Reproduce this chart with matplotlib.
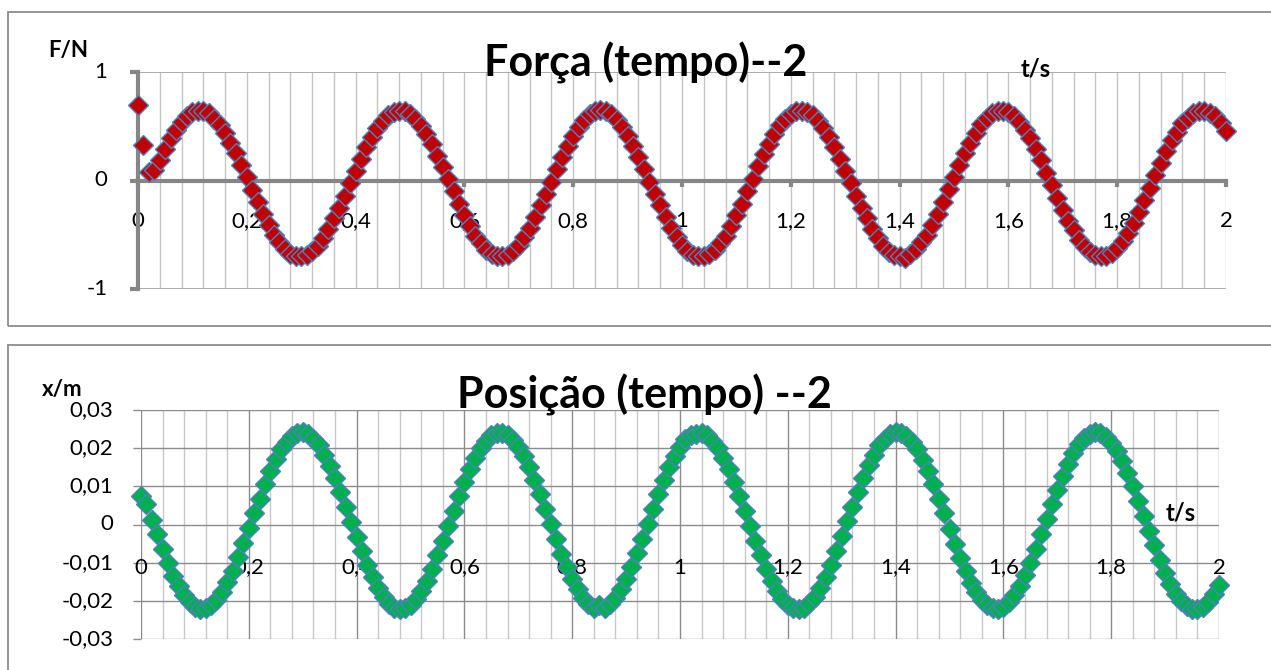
import matplotlib.pyplot as plt
from matplotlib.patches import Rectangle

# tempo (s) das medidas
tempo = [
    0.00, 0.01, 0.02, 0.03, 0.04, 0.05, 0.06, 0.07, 0.08, 0.09,
    0.10, 0.11, 0.12, 0.13, 0.14, 0.15, 0.16, 0.17, 0.18, 0.19,
    0.20, 0.21, 0.22, 0.23, 0.24, 0.25, 0.26, 0.27, 0.28, 0.29,
    0.30, 0.31, 0.32, 0.33, 0.34, 0.35, 0.36, 0.37, 0.38, 0.39,
    0.40, 0.41, 0.42, 0.43, 0.44, 0.45, 0.46, 0.47, 0.48, 0.49,
    0.50, 0.51, 0.52, 0.53, 0.54, 0.55, 0.56, 0.57, 0.58, 0.59,
    0.60, 0.61, 0.62, 0.63, 0.64, 0.65, 0.66, 0.67, 0.68, 0.69,
    0.70, 0.71, 0.72, 0.73, 0.74, 0.75, 0.76, 0.77, 0.78, 0.79,
    0.80, 0.81, 0.82, 0.83, 0.84, 0.85, 0.86, 0.87, 0.88, 0.89,
    0.90, 0.91, 0.92, 0.93, 0.94, 0.95, 0.96, 0.97, 0.98, 0.99,
    1.00, 1.01, 1.02, 1.03, 1.04, 1.05, 1.06, 1.07, 1.08, 1.09,
    1.10, 1.11, 1.12, 1.13, 1.14, 1.15, 1.16, 1.17, 1.18, 1.19,
    1.20, 1.21, 1.22, 1.23, 1.24, 1.25, 1.26, 1.27, 1.28, 1.29,
    1.30, 1.31, 1.32, 1.33, 1.34, 1.35, 1.36, 1.37, 1.38, 1.39,
    1.40, 1.41, 1.42, 1.43, 1.44, 1.45, 1.46, 1.47, 1.48, 1.49,
    1.50, 1.51, 1.52, 1.53, 1.54, 1.55, 1.56, 1.57, 1.58, 1.59,
    1.60, 1.61, 1.62, 1.63, 1.64, 1.65, 1.66, 1.67, 1.68, 1.69,
    1.70, 1.71, 1.72, 1.73, 1.74, 1.75, 1.76, 1.77, 1.78, 1.79,
    1.80, 1.81, 1.82, 1.83, 1.84, 1.85, 1.86, 1.87, 1.88, 1.89,
    1.90, 1.91, 1.92, 1.93, 1.94, 1.95, 1.96, 1.97, 1.98, 1.99,
    2.00]

# forca (N)
forca = [
    0.70, 0.33, 0.08, 0.10, 0.19, 0.29, 0.39, 0.47, 0.54, 0.59,
    0.63, 0.64, 0.64, 0.62, 0.57, 0.51, 0.44, 0.35, 0.25, 0.14,
    0.03, -0.09, -0.20, -0.31, -0.41, -0.50, -0.57, -0.63, -0.68, -0.70,
    -0.70, -0.69, -0.65, -0.60, -0.53, -0.45, -0.35, -0.25, -0.14, -0.02,
    0.09, 0.20, 0.31, 0.40, 0.48, 0.55, 0.60, 0.63, 0.64, 0.64,
    0.61, 0.57, 0.50, 0.43, 0.34, 0.23, 0.12, 0.01, -0.10, -0.22,
    -0.32, -0.42, -0.51, -0.58, -0.64, -0.68, -0.70, -0.70, -0.69, -0.65,
    -0.59, -0.52, -0.44, -0.34, -0.23, -0.12, -0.01, 0.11, 0.22, 0.32,
    0.41, 0.49, 0.56, 0.61, 0.64, 0.65, 0.64, 0.61, 0.56, 0.49,
    0.41, 0.32, 0.22, 0.11, -0.01, -0.12, -0.23, -0.34, -0.44, -0.52,
    -0.59, -0.65, -0.69, -0.70, -0.70, -0.68, -0.64, -0.58, -0.51, -0.42,
    -0.32, -0.22, -0.10, 0.01, 0.13, 0.24, 0.34, 0.43, 0.51, 0.57,
    0.61, 0.64, 0.64, 0.63, 0.60, 0.55, 0.48, 0.40, 0.31, 0.20,
    0.09, -0.02, -0.14, -0.25, -0.35, -0.45, -0.53, -0.60, -0.66, -0.69,
    -0.70, -0.71, -0.68, -0.63, -0.57, -0.50, -0.41, -0.31, -0.20, -0.08,
    0.03, 0.14, 0.25, 0.35, 0.44, 0.52, 0.58, 0.62, 0.64, 0.64,
    0.63, 0.59, 0.54, 0.47, 0.39, 0.29, 0.19, 0.07, -0.04, -0.16,
    -0.27, -0.37, -0.46, -0.55, -0.61, -0.66, -0.69, -0.70, -0.70, -0.67,
    -0.62, -0.56, -0.48, -0.39, -0.29, -0.18, -0.07, 0.05, 0.16, 0.27,
    0.37, 0.45, 0.53, 0.58, 0.62, 0.64, 0.64, 0.62, 0.59, 0.53,
    0.46]

# posicao (m)
posicao = [
    0.0075, 0.0053, 0.0013, -0.0026, -0.0064, -0.0101, -0.0134, -0.0162, -0.0186, -0.0204,
    -0.0216, -0.0222, -0.0220, -0.0212, -0.0198, -0.0177, -0.0151, -0.0121, -0.0086, -0.0049,
    -0.0010, 0.0029, 0.0068, 0.0106, 0.0140, 0.0171, 0.0197, 0.0217, 0.0232, 0.0240,
    0.0242, 0.0237, 0.0225, 0.0207, 0.0183, 0.0154, 0.0121, 0.0085, 0.0047, 0.0007,
    -0.0032, -0.0070, -0.0106, -0.0138, -0.0166, -0.0189, -0.0207, -0.0218, -0.0222, -0.0220,
    -0.0211, -0.0195, -0.0174, -0.0147, -0.0116, -0.0081, -0.0043, -0.0004, 0.0035, 0.0074,
    0.0111, 0.0145, 0.0175, 0.0200, 0.0220, 0.0234, 0.0241, 0.0241, 0.0235, 0.0222,
    0.0203, 0.0179, 0.0150, 0.0116, 0.0079, 0.0041, 0.0001, -0.0038, -0.0076, -0.0111,
    -0.0143, -0.0170, -0.0192, -0.0209, -0.0219, -0.0212, -0.0219, -0.0209, -0.0192, -0.0170,
    -0.0143, -0.0111, -0.0075, -0.0037, 0.0002, 0.0041, 0.0080, 0.0116, 0.0150, 0.0179,
    0.0204, 0.0223, 0.0235, 0.0238, 0.0241, 0.0234, 0.0220, 0.0200, 0.0175, 0.0145,
    0.0111, 0.0074, 0.0035, -0.0005, -0.0044, -0.0081, -0.0116, -0.0147, -0.0174, -0.0195,
    -0.0211, -0.0220, -0.0222, -0.0218, -0.0206, -0.0189, -0.0166, -0.0138, -0.0105, -0.0070,
    -0.0031, 0.0008, 0.0047, 0.0086, 0.0122, 0.0155, 0.0183, 0.0207, 0.0225, 0.0237,
    0.0242, 0.0240, 0.0232, 0.0217, 0.0197, 0.0170, 0.0140, 0.0105, 0.0068, 0.0029,
    -0.0011, -0.0050, -0.0087, -0.0121, -0.0152, -0.0178, -0.0198, -0.0212, -0.0220, -0.0222,
    -0.0216, -0.0204, -0.0186, -0.0162, -0.0133, -0.0100, -0.0064, -0.0026, 0.0014, 0.0053,
    0.0091, 0.0127, 0.0159, 0.0187, 0.0210, 0.0227, 0.0238, 0.0242, 0.0239, 0.0230,
    0.0214, 0.0193, 0.0166, 0.0135, 0.0100, 0.0062, 0.0023, -0.0017, -0.0055, -0.0092,
    -0.0126, -0.0156, -0.0181, -0.0201, -0.0214, -0.0221, -0.0221, -0.0215, -0.0202, -0.0183,
    -0.0158]

x_ticks = [0, 0.2, 0.4, 0.6, 0.8, 1.0, 1.2, 1.4, 1.6, 1.8, 2.0]
x_labels = ['0', '0,2', '0,4', '0,6', '0,8', '1', '1,2', '1,4', '1,6', '1,8', '2']
x_minor = [0.04 * i for i in range(51)]
f_ticks = [-1, 0, 1]
f_labels = ['-1', '0', '1']
p_ticks = [-0.03, -0.02, -0.01, 0, 0.01, 0.02, 0.03]
p_labels = ['-0,03', '-0,02', '-0,01', '0', '0,01', '0,02', '0,03']

plt.rcParams['font.family'] = ['Lato', 'DejaVu Sans']

W, H = 1271, 670
fig = plt.figure(figsize=(W / 100, H / 100), dpi=100)


def px_box(x0, y0, x1, y1):
    # caixa em pixels (origem em cima) -> fracao da figura
    return [x0 / W, 1 - y1 / H, (x1 - x0) / W, (y1 - y0) / H]


# molduras dos dois graficos
for (x0, y0, x1, y1) in [(8, 12, 1290, 326), (8, 345, 1290, 690)]:
    b = px_box(x0, y0, x1, y1)
    fig.add_artist(Rectangle((b[0], b[1]), b[2], b[3], transform=fig.transFigure,
                             fill=False, ec='#8c8c8c', lw=1.3))

eixo = '#868686'
tam = 16

# ---------------- Forca ----------------
ax1 = fig.add_axes(px_box(138, 72, 1226, 289))
ax1.set_facecolor('none')
ax1.set_xlim(0, 2)
ax1.set_ylim(-1, 1)
for s in ['top', 'right']:
    ax1.spines[s].set_visible(False)
for s in ['left', 'bottom']:
    ax1.spines[s].set_position(('data', 0))
    ax1.spines[s].set_color(eixo)
    ax1.spines[s].set_linewidth(3)
    ax1.spines[s].set_zorder(3)
ax1.set_xticks(x_ticks)
ax1.set_xticks(x_minor, minor=True)
ax1.set_yticks(f_ticks)
ax1.tick_params(axis='x', which='major', direction='out', length=4, width=3,
                color=eixo, labelbottom=False)
ax1.tick_params(axis='x', which='minor', length=0)
ax1.tick_params(axis='y', direction='out', length=6, width=3, color=eixo, labelleft=False)
ax1.grid(axis='x', which='both', color='#c4c4c4', lw=1)
ax1.axhline(1, color='#a6a6a6', lw=1.3, zorder=1)
ax1.axhline(-1, color='#a6a6a6', lw=1.3, zorder=1)
ax1.set_axisbelow(True)

for xv, lb in zip(x_ticks, x_labels):
    ax1.annotate(lb, (xv, 0), xytext=(0, -29.5), textcoords='offset points',
                 ha='center', va='center', fontsize=tam, zorder=2)
for yv, lb in zip(f_ticks, f_labels):
    ax1.annotate(lb, (0, yv), xytext=(-22, 0), textcoords='offset points',
                 ha='right', va='center', fontsize=tam, annotation_clip=False)

ax1.plot(tempo, forca, ls='none', marker='D', ms=10.5, mfc='#C00000',
         mec='#4F81BD', mew=1, clip_on=False, zorder=5)

fig.text(646 / W, 1 - 77 / H, 'Força (tempo)--2', ha='center', va='baseline',
         fontsize=31, fontweight='bold', zorder=6)
fig.text(68 / W, 1 - 51 / H, 'F/N', ha='center', va='center', fontsize=16, fontweight='bold')
fig.text(1036 / W, 1 - 69 / H, 't/s', ha='center', va='center', fontsize=17,
         fontweight='bold', zorder=6)

# ---------------- Posicao ----------------
ax2 = fig.add_axes(px_box(141, 410, 1219, 639))
ax2.set_facecolor('none')
ax2.set_xlim(0, 2)
ax2.set_ylim(-0.03, 0.03)
for s in ax2.spines.values():
    s.set_visible(False)
ax2.set_xticks(x_ticks)
ax2.set_xticks(x_minor, minor=True)
ax2.set_yticks(p_ticks)
ax2.tick_params(axis='x', which='both', length=0, labelbottom=False)
ax2.tick_params(axis='y', direction='out', length=6, width=1, color='#8c8c8c', labelleft=False)
ax2.grid(axis='x', which='minor', color='#c8c8c8', lw=1)
ax2.grid(axis='x', which='major', color='#8c8c8c', lw=1)
ax2.grid(axis='y', which='major', color='#8c8c8c', lw=1)
ax2.set_axisbelow(True)

for xv, lb in zip(x_ticks, x_labels):
    ax2.annotate(lb, (xv, 0), xytext=(0, -31), textcoords='offset points',
                 ha='center', va='center', fontsize=tam, zorder=2)
for yv, lb in zip(p_ticks, p_labels):
    ax2.annotate(lb, (0, yv), xytext=(-20, 0), textcoords='offset points',
                 ha='right', va='center', fontsize=tam, annotation_clip=False)

ax2.plot(tempo, posicao, ls='none', marker='D', ms=10.5, mfc='#00B050',
         mec='#4F81BD', mew=1, clip_on=False, zorder=5)

fig.text(644 / W, 1 - 408 / H, 'Posição (tempo) --2', ha='center', va='baseline',
         fontsize=31, fontweight='bold', zorder=6)
fig.text(62 / W, 1 - 389 / H, 'x/m', ha='center', va='center', fontsize=16, fontweight='bold')
fig.text(1181 / W, 1 - 513 / H, 't/s', ha='center', va='center', fontsize=17,
         fontweight='bold', zorder=6)

fig.savefig('out.png', dpi=100)
